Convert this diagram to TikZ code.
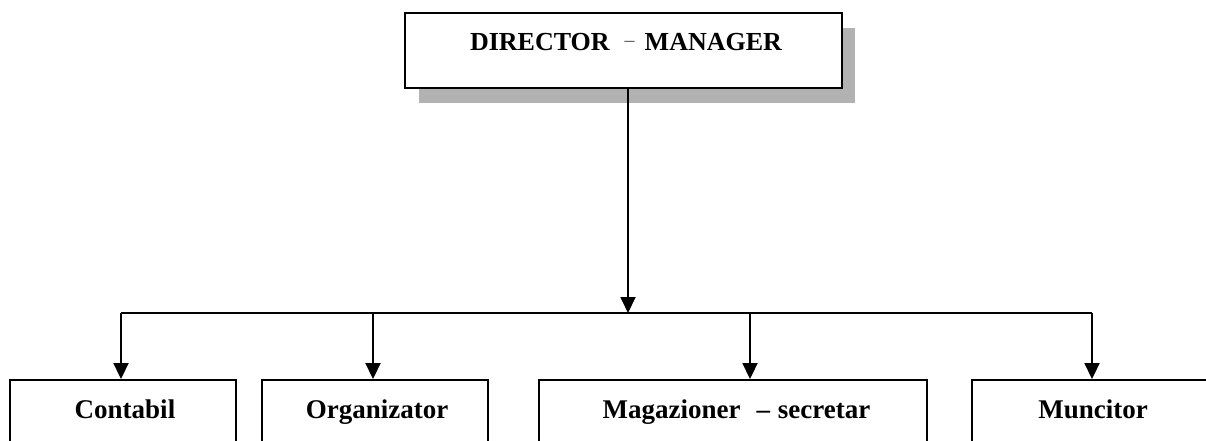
\documentclass[tikz,border=0pt]{standalone}
\usepackage{fontspec}
\setmainfont{Liberation Serif}
\usetikzlibrary{arrows.meta}
\begin{document}
\begin{tikzpicture}[x=1pt,y=-1pt,
  line width=1.9pt,
  boxline/.style={draw=black, fill=white, rectangle, inner sep=0pt},
  toptext/.style={font=\fontsize{26}{30}\selectfont\bfseries, anchor=base, inner sep=0pt},
  bottext/.style={font=\fontsize{27}{31}\selectfont\bfseries, anchor=base, inner sep=0pt},
  arr/.style={-{Triangle[length=16pt,width=15pt]}},
  shadowfill/.style={fill=black!30, draw=none}]
\useasboundingbox (0,0) rectangle (1206,441);
% shadow of top box
\fill[shadowfill] (419,28) rectangle (855,103);
% top box
\node[boxline, minimum width=437pt, minimum height=75pt] (dir) at (623.5,50.5) {};
\node[toptext] (dirt) at (626,51) {DIRECTOR\hspace{15pt}\raisebox{4pt}{\fontsize{20}{22}\selectfont\mdseries\color{black!70}\textendash}\hspace{10pt}MANAGER};
% bottom boxes (cut by the lower edge)
\node[boxline, minimum width=226pt, minimum height=100pt] (cont) at (123,430) {};
\node[boxline, minimum width=226pt, minimum height=100pt] (org) at (375,430) {};
\node[boxline, minimum width=388pt, minimum height=100pt] (mag) at (733,430) {};
\node[boxline, minimum width=242pt, minimum height=100pt] (mun) at (1093,430) {};
\node[bottext] (contt) at (125,418) {Contabil};
\node[bottext] (orgt) at (377,418) {Organizator};
\node[bottext] (magt) at (736.5,418) {Magazioner\hspace{16pt}\textendash\hspace{1pt} secretar};
\node[bottext] (munt) at (1093,418) {Muncitor};
% bus
\coordinate (bus) at (628,313);
\coordinate (b1) at (121,313);
\coordinate (b2) at (373,313);
\coordinate (b3) at (750,313);
\coordinate (b4) at (1092,313);
\draw (b1) -- (b4);
\draw[arr] (dir.south -| bus) -- (bus);
\draw[arr] (b1) -- (b1 |- cont.north);
\draw[arr] (b2) -- (b2 |- org.north);
\draw[arr] (b3) -- (b3 |- mag.north);
\draw[arr] (b4) -- (b4 |- mun.north);
\end{tikzpicture}
\end{document}
